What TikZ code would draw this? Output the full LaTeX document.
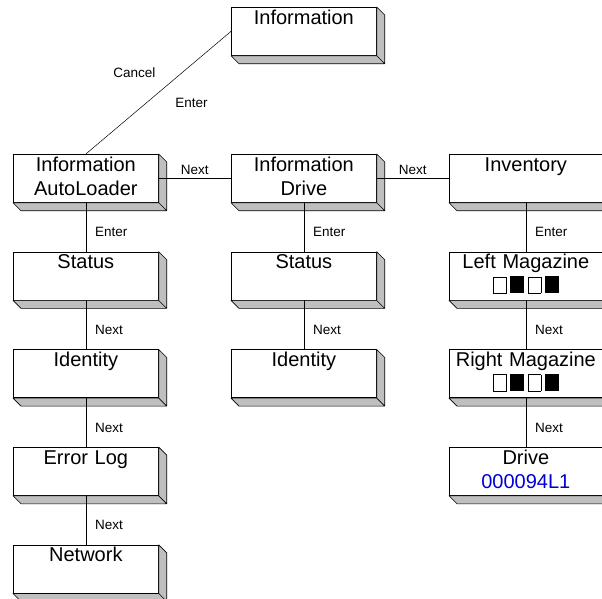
\documentclass[tikz,border=0pt]{standalone}
\usepackage{fontspec}
\setmainfont{Liberation Sans}
\usepackage{tikz}
\usetikzlibrary{calc}
\usetikzlibrary{positioning}
\definecolor{codeblue}{rgb}{0,0,0.82}
\newcommand{\slotfull}{\rule{13.5pt}{17pt}}
\newcommand{\slotempty}{{\fboxsep=0pt\fboxrule=0.7pt\fbox{\rule{0pt}{15.6pt}\hspace{12.1pt}}}}
\newcommand{\slotgap}{\hspace{3.8pt}}
\newcommand{\slots}{\smash{\slotempty\slotgap\slotfull\slotgap\slotempty\slotgap\slotfull}}

\begin{document}
\begin{tikzpicture}[
  x=1pt, y=-1pt,
  menu/.style = {draw, fill=white, line width=0.7pt, inner sep=0pt, text width=145pt,
                 minimum height=48pt, align=center, anchor=north west,
                 font=\fontsize{20}{24}\selectfont},
  wide/.style = {menu, text width=153pt},
  bevel/.style = {draw, fill=black!25, line width=0.6pt, line join=round},
  link/.style = {draw, line width=0.5pt},
  tag/.style = {font=\fontsize{13.5}{16}\selectfont, inner sep=1pt}
  ]
	\useasboundingbox (0,0) rectangle (602,598);

	\coordinate (@top) at (231,7);
	\coordinate (@1) at (13,154);
	\coordinate (@2) at (231,154);
	\coordinate (@3) at (449,154);

	\node[menu] (info) at (@top) {\strut Information\\\strut};

	% column 1
	\node[menu] (autoloader) at (@1) {\strut Information\\\strut AutoLoader};
	\node[menu, below=49pt of autoloader] (alstatus) {\strut Status\\\strut};
	\node[menu, below=49pt of alstatus] (alident) {\strut Identity\\\strut};
	\node[menu, below=49pt of alident] (errlog) {\strut Error Log\\\strut};
	\node[menu, below=49pt of errlog] (network) {\strut Network\\\strut};

	% column 2
	\node[menu] (drive) at (@2) {\strut Information\\\strut Drive};
	\node[menu, below=49pt of drive] (drstatus) {\strut Status\\\strut};
	\node[menu, below=49pt of drstatus] (drident) {\strut Identity\\\strut};

	% column 3
	\node[wide] (inventory) at (@3) {\strut Inventory\\\strut};
	\node[wide, below=49pt of inventory] (leftmag) {\strut Left Magazine\\\strut\slots};
	\node[wide, below=49pt of leftmag] (rightmag) {\strut Right Magazine\\\strut\slots};
	\node[wide, below=49pt of rightmag] (invdrive) {\strut Drive\\\strut\textcolor{codeblue}{000094L1}};

	\foreach \n in {info,autoloader,alstatus,alident,errlog,network,drive,drstatus,drident,inventory,leftmag,rightmag,invdrive}
		\draw[bevel] (\n.north east) -- ++(8,8) -- ($(\n.south east)+(8,8)$) -- ($(\n.south west)+(8,8)$)
			-- (\n.south west) -- (\n.south east) -- cycle
			(\n.south east) -- ++(8,8);

	\draw[link] (autoloader.north) -- (info.west)
		node[tag, pos=.5, xshift=-24pt, yshift=20.5pt] (tcancel) {Cancel}
		node[tag, pos=.5, xshift=33pt, yshift=-10.5pt] (tenter0) {Enter};
	\draw[link] (autoloader.east) -- (drive.west) node[tag, midway, above=2pt] (tnext1) {Next};
	\draw[link] (drive.east) -- (inventory.west) node[tag, midway, above=2pt] (tnext2) {Next};

	\draw[link] (autoloader.south) -- (alstatus.north) node[tag, pos=.6, right=8pt] (tenter1) {Enter};
	\draw[link] (alstatus.south) -- (alident.north) node[tag, pos=.6, right=8pt] (tnext3) {Next};
	\draw[link] (alident.south) -- (errlog.north) node[tag, pos=.6, right=8pt] (tnext4) {Next};
	\draw[link] (errlog.south) -- (network.north) node[tag, pos=.6, right=8pt] (tnext5) {Next};

	\draw[link] (drive.south) -- (drstatus.north) node[tag, pos=.6, right=8pt] (tenter2) {Enter};
	\draw[link] (drstatus.south) -- (drident.north) node[tag, pos=.6, right=8pt] (tnext6) {Next};

	\draw[link] (inventory.south) -- (leftmag.north) node[tag, pos=.6, right=8pt] (tenter3) {Enter};
	\draw[link] (leftmag.south) -- (rightmag.north) node[tag, pos=.6, right=8pt] (tnext7) {Next};
	\draw[link] (rightmag.south) -- (invdrive.north) node[tag, pos=.6, right=8pt] (tnext8) {Next};

\end{tikzpicture}
\end{document}
